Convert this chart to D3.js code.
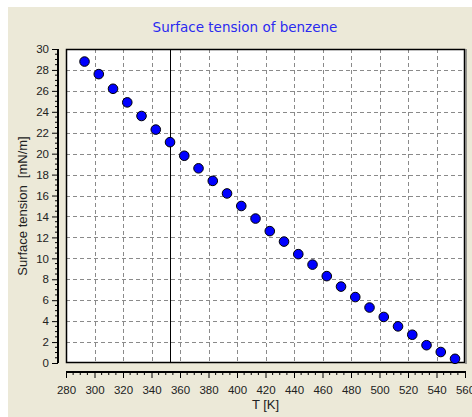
<!DOCTYPE html>
<html>
<head>
<meta charset="utf-8">
<script src="https://cdn.jsdelivr.net/npm/d3@7"></script>
<style>
  body { margin: 0; background: #fff; }
  svg { display: block; }
</style>
</head>
<body>
<svg id="chart" width="472" height="417"></svg>
<script>
// data (T in K, surface tension in mN/m)
var temps = [293, 303, 313, 323, 333, 343, 353, 363, 373, 383, 393, 403, 413, 423,
             433, 443, 453, 463, 473, 483, 493, 503, 513, 523, 533, 543, 553];
var sigma = [28.8, 27.6, 26.2, 24.9, 23.6, 22.3, 21.1, 19.8, 18.6, 17.4, 16.2, 15.0, 13.8, 12.6,
             11.6, 10.4, 9.4, 8.3, 7.3, 6.3, 5.3, 4.4, 3.5, 2.7, 1.7, 1.05, 0.4];
var boilingT = 353.2;
var xTicks = d3.range(280, 561, 20);
var yTicks = d3.range(0, 31, 2);

var svg = d3.select("#chart");
var fontFam = "'Liberation Sans', Arial, sans-serif";

var plot = {left: 66, right: 465, top: 49, bottom: 363};

// panel background
svg.append("rect")
    .attr("x", 8).attr("y", 7)
    .attr("width", 464).attr("height", 410)
    .attr("fill", "#ece9d8");

var x = d3.scaleLinear().domain([280, 560]).range([plot.left, plot.right]);
var y = d3.scaleLinear().domain([0, 30]).range([plot.bottom, plot.top]);

// plot area
svg.append("rect")
    .attr("x", plot.left).attr("y", plot.top)
    .attr("width", plot.right - plot.left).attr("height", plot.bottom - plot.top)
    .attr("fill", "#fff");

// grid
var grid = svg.append("g").attr("stroke", "#8a8a8a").attr("stroke-width", 1)
    .attr("stroke-dasharray", "4,3");
grid.selectAll(".gx").data(xTicks.slice(1, -1)).enter().append("line")
    .attr("x1", function(d) { return Math.round(x(d)) + 0.5; })
    .attr("x2", function(d) { return Math.round(x(d)) + 0.5; })
    .attr("y1", plot.top).attr("y2", plot.bottom);
grid.selectAll(".gy").data(yTicks.slice(1, -1)).enter().append("line")
    .attr("y1", function(d) { return Math.round(y(d)) + 0.5; })
    .attr("y2", function(d) { return Math.round(y(d)) + 0.5; })
    .attr("x1", plot.left).attr("x2", plot.right);

// boiling point line
svg.append("line")
    .attr("x1", Math.round(x(boilingT)) + 0.5).attr("x2", Math.round(x(boilingT)) + 0.5)
    .attr("y1", plot.top).attr("y2", plot.bottom)
    .attr("stroke", "#000").attr("stroke-width", 1);

// frame
svg.append("rect")
    .attr("x", plot.left + 0.5).attr("y", plot.top + 0.5)
    .attr("width", plot.right - plot.left - 1).attr("height", plot.bottom - plot.top - 1)
    .attr("fill", "none").attr("stroke", "#000").attr("stroke-width", 1.5);
svg.append("line")
    .attr("x1", plot.right + 1).attr("x2", plot.right + 1)
    .attr("y1", plot.top).attr("y2", plot.bottom + 1)
    .attr("stroke", "#777").attr("stroke-width", 1.5);

// points
svg.append("g").selectAll("circle")
    .data(temps).enter().append("circle")
    .attr("cx", function(d) { return x(d); })
    .attr("cy", function(d, i) { return y(sigma[i]); })
    .attr("r", 4.8)
    .attr("fill", "#0000ff")
    .attr("stroke", "#000")
    .attr("stroke-width", 1);

// x axis (offset below the frame)
var axisX = svg.append("g")
    .attr("transform", "translate(0,372)")
    .call(d3.axisBottom(x).tickValues(xTicks).tickSize(6).tickPadding(8));
axisX.append("g").selectAll("line")
    .data(d3.range(285, 560, 5).filter(function(d) { return d % 20 !== 0; }))
    .enter().append("line")
    .attr("x1", function(d) { return x(d); }).attr("x2", function(d) { return x(d); })
    .attr("y1", 0).attr("y2", 3).attr("stroke", "#000");

// y axis (offset left of the frame)
var axisY = svg.append("g")
    .attr("transform", "translate(58,0)")
    .call(d3.axisLeft(y).tickValues(yTicks).tickSize(6).tickPadding(3));
axisY.append("g").selectAll("line")
    .data(d3.range(0.5, 30, 0.5).filter(function(d) { return d % 2 !== 0; }))
    .enter().append("line")
    .attr("y1", function(d) { return y(d); }).attr("y2", function(d) { return y(d); })
    .attr("x1", 0).attr("x2", -3).attr("stroke", "#000");

[axisX, axisY].forEach(function(a) {
    a.select(".domain").attr("stroke-width", 2);
    a.selectAll("text").attr("font-family", fontFam).attr("font-size", 11.5).attr("fill", "#222");
});
axisX.select(".domain").attr("d", "M" + plot.left + ",0H" + (plot.right + 1));
axisY.select(".domain").attr("d", "M0," + plot.top + "V" + plot.bottom);

// title and axis labels
svg.append("text")
    .attr("x", 245).attr("y", 32)
    .attr("text-anchor", "middle")
    .attr("font-family", "'DejaVu Sans', Verdana, sans-serif")
    .attr("font-size", 13.5)
    .attr("fill", "#2a2af0")
    .text("Surface tension of benzene");

svg.append("text")
    .attr("x", (plot.left + plot.right) / 2).attr("y", 409)
    .attr("text-anchor", "middle")
    .attr("font-family", fontFam).attr("font-size", 13).attr("fill", "#222")
    .text("T [K]");

svg.append("text")
    .attr("transform", "translate(27," + ((plot.top + plot.bottom) / 2) + ") rotate(-90)")
    .attr("text-anchor", "middle")
    .attr("font-family", fontFam).attr("font-size", 13).attr("fill", "#222")
    .attr("xml:space", "preserve")
    .text("Surface tension  [mN/m]");
</script>
</body>
</html>
